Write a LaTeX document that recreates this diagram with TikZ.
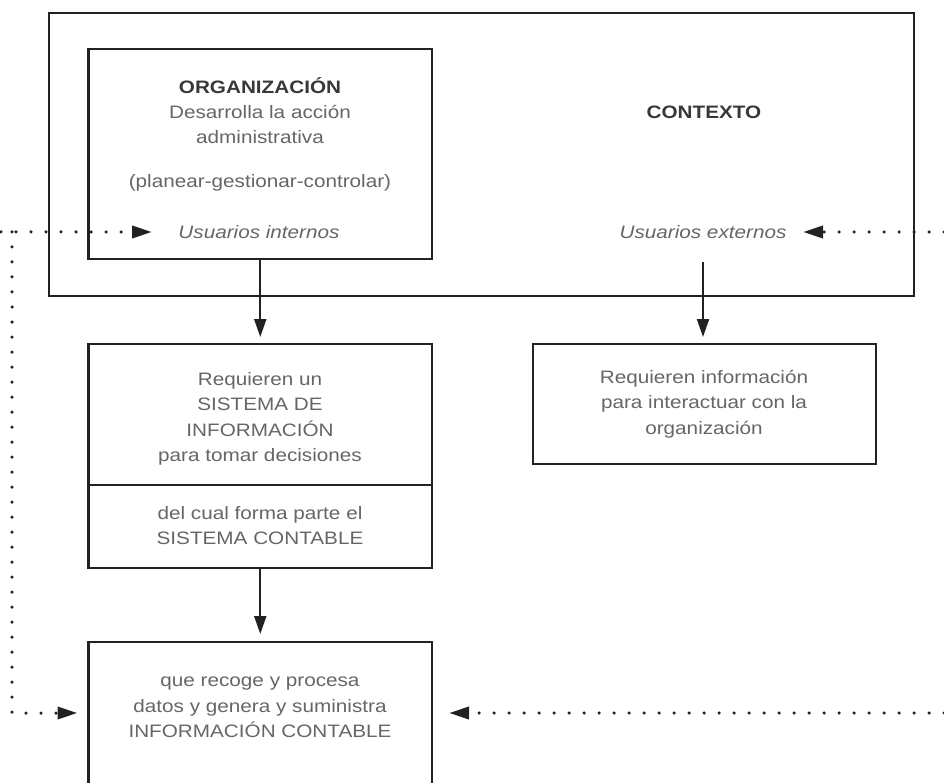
\documentclass[tikz,border=0pt]{standalone}
\usepackage{fontspec}
\setmainfont{Liberation Sans}[FakeStretch=1.15]
\usetikzlibrary{arrows.meta}
\definecolor{edge}{HTML}{222222}
\definecolor{txt}{HTML}{666666}
\definecolor{ttl}{HTML}{383838}
\begin{document}
\begin{tikzpicture}[x=1pt,y=-1pt,
  box/.style={draw=edge,line width=2.4pt,inner sep=0pt,outer sep=0pt,anchor=north west},
  lbl/.style={text=txt,align=center,font=\fontsize{18}{25.5}\selectfont,inner sep=0pt},
  ttlfont/.style={text=ttl,font=\fontsize{18}{25.5}\selectfont\bfseries,inner sep=0pt},
  flow/.style={draw=edge,line width=2pt,-{Triangle[length=18pt,width=12pt]}},
  dots/.style={draw=edge,line width=3.5pt,line cap=round,dash pattern=on 0pt off 15pt,
     -{Triangle[length=20pt,width=12pt,line cap=butt]}}]
\useasboundingbox (0,0) rectangle (944,783);
\clip (0,0) rectangle (944,783);
\fill[white] (0,0) rectangle (944,783);
% boxes
\node[box,minimum width=865pt,minimum height=283pt] (outer) at (49,13) {};
\node[box,minimum width=343.5pt,minimum height=210pt] (org) at (88.5,49) {};
\node[box,minimum width=343.5pt,minimum height=141pt] (sia) at (88.5,344) {};
\node[box,minimum width=343.5pt,minimum height=83pt] (sib) at (88.5,485) {};
\node[box,minimum width=343pt,minimum height=120pt] (rbox) at (533,344) {};
\node[box,minimum width=343.5pt,minimum height=180pt] (inf) at (88.5,642) {};
% texts
\node[ttlfont] (orgtitle) at (260,86) {ORGANIZACIÓN};
\node[lbl] (orgdesc) at (260,124.5) {Desarrolla la acción\\administrativa};
\node[lbl] (plan) at (260,183) {(planear-gestionar-controlar)};
\node[lbl,font=\fontsize{18}{25.5}\selectfont\itshape] (uint) at (259,232) {Usuarios internos};
\node[ttlfont] (ctx) at (704,112) {CONTEXTO};
\node[lbl,font=\fontsize{18}{25.5}\selectfont\itshape] (uext) at (703,232) {Usuarios externos};
\node[lbl] (siatxt) at (260,419) {Requieren un\\SISTEMA DE\\INFORMACIÓN\\para tomar decisiones};
\node[lbl] (sibtxt) at (260,525.5) {del cual forma parte el\\SISTEMA CONTABLE};
\node[lbl] (rtxt) at (704,404) {Requieren información\\para interactuar con la\\organización};
\node[lbl] (inftxt) at (260,707.5) {que recoge y procesa\\datos y genera y suministra\\INFORMACIÓN CONTABLE};
% solid arrows
\draw[flow,shorten >=7pt] (org.south) -- (sia.north);
\coordinate (ctxout) at (703,262);
\draw[flow,shorten >=7pt] (ctxout) -- (ctxout |- rbox.north);
\draw[flow,shorten >=8pt] (sib.south) -- (inf.north);
% dotted arrows
\coordinate (lin) at (1,232);
\coordinate (lcorner) at (12,232);
\coordinate (lend) at (12,713);
\coordinate (rtop) at (944,232);
\coordinate (rbot) at (944,713);
\coordinate (uintin) at (152,232);
\coordinate (uextin) at (803,232);
\draw[dots] (lin) -- (uintin);
\draw[dots,shorten >=11pt] (lcorner) -- (lend) -- (lend -| inf.west);
\draw[dots] (rtop) -- (uextin);
\draw[dots,shorten >=17pt] (rbot) -- (rbot -| inf.east);
\end{tikzpicture}
\end{document}
